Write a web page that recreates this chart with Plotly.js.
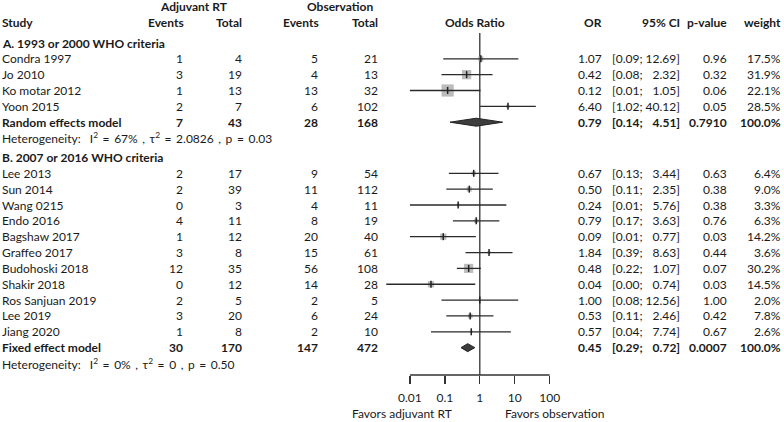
<!DOCTYPE html>
<html><head><meta charset="utf-8">
<script src="https://cdn.plot.ly/plotly-3.0.1.min.js"></script>
<style>html,body{margin:0;padding:0;background:#fff}#chart{width:784px;height:422px}</style>
</head><body><div id="chart"></div>
<script>
// ---------- data ----------
const groupTitles = ['A. 1993 or 2000 WHO criteria', 'B. 2007 or 2016 WHO criteria'];

const studiesA   = ['Condra 1997', 'Jo 2010', 'Ko motar 2012', 'Yoon 2015'];
const evAdjA     = [1, 3, 1, 2];
const totAdjA    = [4, 19, 13, 7];
const evObsA     = [5, 4, 13, 6];
const totObsA    = [21, 13, 32, 102];
const orA        = [1.07, 0.42, 0.12, 6.40];
const loA        = [0.09, 0.08, 0.01, 1.02];
const hiA        = [12.69, 2.32, 1.05, 40.12];
const pA         = [0.96, 0.32, 0.06, 0.05];
const weightA    = [17.5, 31.9, 22.1, 28.5];

const studiesB   = ['Lee 2013', 'Sun 2014', 'Wang 0215', 'Endo 2016', 'Bagshaw 2017', 'Graffeo 2017',
                    'Budohoski 2018', 'Shakir 2018', 'Ros Sanjuan 2019', 'Lee 2019', 'Jiang 2020'];
const evAdjB     = [2, 2, 0, 4, 1, 3, 12, 0, 2, 3, 1];
const totAdjB    = [17, 39, 3, 11, 12, 8, 35, 12, 5, 20, 8];
const evObsB     = [9, 11, 4, 8, 20, 15, 56, 14, 2, 6, 2];
const totObsB    = [54, 112, 11, 19, 40, 61, 108, 28, 5, 24, 10];
const orB        = [0.67, 0.50, 0.24, 0.79, 0.09, 1.84, 0.48, 0.04, 1.00, 0.53, 0.57];
const loB        = [0.13, 0.11, 0.01, 0.17, 0.01, 0.39, 0.22, 0.0021, 0.08, 0.11, 0.04];
const hiB        = [3.44, 2.35, 5.76, 3.63, 0.77, 8.63, 1.07, 0.74, 12.56, 2.46, 7.74];
const pB         = [0.63, 0.38, 0.38, 0.76, 0.03, 0.44, 0.07, 0.03, 1.00, 0.42, 0.67];
const weightB    = [6.4, 9.0, 3.3, 6.3, 14.2, 3.6, 30.2, 14.5, 2.0, 7.8, 2.6];

const summaryLabels = ['Random effects model', 'Fixed effect model'];
const sumEvAdj   = [7, 30];
const sumTotAdj  = [43, 170];
const sumEvObs   = [28, 147];
const sumTotObs  = [168, 472];
const sumOR      = [0.79, 0.45];
const sumLo      = [0.14, 0.29];
const sumHi      = [4.51, 0.72];
const sumP       = ['0.7910', '0.0007'];
const sumWeight  = [100.0, 100.0];
const hetI2      = ['67%', '0%'];
const hetTau2    = ['2.0826', '0'];
const hetP       = ['0.03', '0.50'];

const tickVals   = [0.01, 0.1, 1, 10, 100];
const tickText   = ['0.01', '0.1', '1', '10', '100'];
const favorLeft  = 'Favors adjuvant RT';
const favorRight = 'Favors observation';

// ---------- layout constants (pixels) ----------
const W = 784, H = 422;
const FONT = 'Lato, "Open Sans", sans-serif';
const FS = 12;
const TXT = '#1a1a1a';
const step = 15.85;
const yHead1 = 6, yHead2 = 22;
const yGroupA = 43, yFirstA = 58.8;
const yGroupB = 157.5, yFirstB = 173.3;
const col = {study: 1, evAdj: 184, totAdj: 243, evObs: 319, totObs: 379,
             or: 603, ci: 681, p: 728, w: 782};
const axisY = 375, refTop = 33;

// Mantel-Haenszel weights (used only for box sizes)
function mh(eT, nT, eC, nC) { return (nT - eT) * eC / (nT + nC); }
function boxSizes(eT, nT, eC, nC) {
  const w = eT.map((_, i) => mh(eT[i], nT[i], eC[i], nC[i]));
  const s = w.reduce((a, b) => a + b, 0);
  return w.map(v => 1.65 * Math.sqrt(100 * v / s));
}

const ann = [];
function txt(x, y, text, anchor, opts) {
  opts = opts || {};
  ann.push({xref: 'paper', yref: 'y', x: x / W, y: y, text: text, showarrow: false,
    xanchor: anchor || 'left', yanchor: 'middle', borderpad: 0,
    font: {family: FONT, size: opts.size || FS, color: TXT}});
}
const B = s => '<b>' + s + '</b>';
const fmtCI = (lo, hi) => {
  const h = hi.toFixed(2);
  const pad = h.length < 5 ? '\u2007' : '';
  return '[' + lo.toFixed(2) + ';\u00a0' + pad + h + ']';
};
const SP = '\u2009\u00a0';

// headers
txt(194, yHead1, B('Adjuvant RT'), 'center');
txt(340, yHead1, B('Observation'), 'center');
txt(col.study, yHead2, B('Study'), 'left');
txt(col.evAdj + 1, yHead2, B('Events'), 'right');
txt(col.totAdj, yHead2, B('Total'), 'right');
txt(col.evObs + 1, yHead2, B('Events'), 'right');
txt(col.totObs, yHead2, B('Total'), 'right');
txt(475, yHead2, B('Odds Ratio'), 'center');
txt(col.or, yHead2, B('OR'), 'right');
txt(col.ci, yHead2, B('95% CI'), 'right');
txt(col.p, yHead2, B('p-value'), 'right');
txt(col.w, yHead2, B('weight'), 'right');

const groups = [
  {title: groupTitles[0], yTitle: yGroupA, yFirst: yFirstA, st: studiesA, eA: evAdjA, tA: totAdjA, eO: evObsA, tO: totObsA, or: orA, lo: loA, hi: hiA, p: pA, w: weightA},
  {title: groupTitles[1], yTitle: yGroupB, yFirst: yFirstB, st: studiesB, eA: evAdjB, tA: totAdjB, eO: evObsB, tO: totObsB, or: orB, lo: loB, hi: hiB, p: pB, w: weightB}
];

const ciX = [], ciY = [], boxX = [], boxY = [], boxS = [], traces = [];
groups.forEach((g, gi) => {
  txt(col.study, g.yTitle, B(g.title), 'left');
  const sizes = boxSizes(g.eA, g.tA, g.eO, g.tO);
  g.st.forEach((name, i) => {
    const y = g.yFirst + i * step;
    txt(col.study, y, name, 'left');
    txt(col.evAdj, y, String(g.eA[i]), 'right');
    txt(col.totAdj, y, String(g.tA[i]), 'right');
    txt(col.evObs, y, String(g.eO[i]), 'right');
    txt(col.totObs, y, String(g.tO[i]), 'right');
    txt(col.or, y, g.or[i].toFixed(2), 'right');
    txt(col.ci, y, fmtCI(g.lo[i], g.hi[i]), 'right');
    txt(col.p, y, g.p[i].toFixed(2), 'right');
    txt(col.w, y, g.w[i].toFixed(1) + '%', 'right');
    ciX.push(g.lo[i], g.hi[i], null); ciY.push(y, y, null);
    boxX.push(g.or[i]); boxY.push(y); boxS.push(sizes[i]);
  });
  const ys = g.yFirst + g.st.length * step;
  txt(col.study, ys, B(summaryLabels[gi]), 'left');
  txt(col.evAdj, ys, B(String(sumEvAdj[gi])), 'right');
  txt(col.totAdj, ys, B(String(sumTotAdj[gi])), 'right');
  txt(col.evObs, ys, B(String(sumEvObs[gi])), 'right');
  txt(col.totObs, ys, B(String(sumTotObs[gi])), 'right');
  txt(col.or, ys, B(sumOR[gi].toFixed(2)), 'right');
  txt(col.ci, ys, B(fmtCI(sumLo[gi], sumHi[gi])), 'right');
  txt(col.p, ys, B(sumP[gi]), 'right');
  txt(col.w, ys, B(sumWeight[gi].toFixed(1) + '%'), 'right');
  const yh = ys + step;
  txt(col.study, yh, 'Heterogeneity:' + SP + SP + 'I<sup>2</sup>' + SP + '=' + SP + hetI2[gi] + SP + ',' + SP +
      '\u03c4<sup>2</sup>' + SP + '=' + SP + hetTau2[gi] + SP + ',' + SP + 'p' + SP + '=' + SP + hetP[gi], 'left', {size: 12});
  // diamond
  traces.push({type: 'scatter', mode: 'lines', x: [sumLo[gi], sumOR[gi], sumHi[gi], sumOR[gi], sumLo[gi]],
    y: [ys, ys - 4, ys, ys + 4, ys], fill: 'toself', fillcolor: '#3d3d3d',
    line: {color: '#222', width: 1}, hoverinfo: 'skip'});
});

const data = [
  {type: 'scatter', mode: 'lines', x: [1, 1], y: [refTop, axisY], line: {color: '#333', width: 1.3}, hoverinfo: 'skip'},
  {type: 'scatter', mode: 'lines', x: [tickVals[0], tickVals[tickVals.length - 1]], y: [axisY, axisY], line: {color: '#333', width: 1.3}, hoverinfo: 'skip'},
  {type: 'scatter', mode: 'markers', x: boxX, y: boxY, marker: {symbol: 'square', size: boxS, color: '#a0a0a0', line: {width: 0}}, hoverinfo: 'skip'},
  {type: 'scatter', mode: 'lines', x: ciX, y: ciY, line: {color: '#2a2a2a', width: 1.3}, connectgaps: false, hoverinfo: 'skip'},
  {type: 'scatter', mode: 'markers', x: boxX, y: boxY, marker: {symbol: 'line-ns-open', size: 5, color: '#222', line: {color: '#222', width: 1.5}}, hoverinfo: 'skip'}
].concat(traces);

// favor labels
txt(453, 413, favorLeft, 'right');
txt(504, 413, favorRight, 'left');

const x0 = 375.0, x1 = 584.6;
const layout = {
  width: W, height: H, margin: {l: 0, r: 0, t: 0, b: 0, pad: 0},
  paper_bgcolor: '#fff', plot_bgcolor: 'rgba(0,0,0,0)', showlegend: false,
  font: {family: FONT, size: FS, color: TXT},
  xaxis: {type: 'log', range: [-3, 3], domain: [x0 / W, x1 / W], anchor: 'free', position: (H - axisY) / H,
    showgrid: false, zeroline: false, showline: false, ticks: 'outside', ticklen: 8, tickwidth: 1.3, tickcolor: '#333',
    tickmode: 'array', tickvals: tickVals, ticktext: tickText, ticklabelstandoff: 4,
    tickfont: {family: FONT, size: FS, color: TXT}, fixedrange: true},
  yaxis: {range: [H, 0], domain: [0, 1], visible: false, fixedrange: true},
  annotations: ann
};
Plotly.newPlot('chart', data, layout, {displayModeBar: false, staticPlot: true});
</script></body></html>
